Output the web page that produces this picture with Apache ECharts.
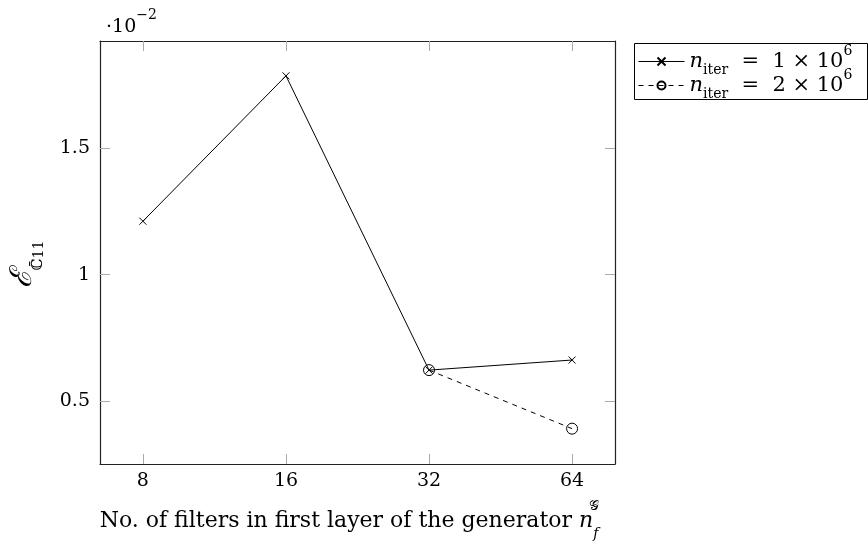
<!DOCTYPE html>
<html><head><meta charset="utf-8">
<script src="https://cdn.jsdelivr.net/npm/echarts@6/dist/echarts.min.js"></script>
<style>html,body{margin:0;padding:0;background:#fff}#c{width:868px;height:546px}</style>
</head><body><div id="c"></div>
<script>
const filters = [8, 16, 32, 64];
const iter1e6 = [1.212, 1.788, 0.622, 0.662];
const filters2 = [32, 64];
const iter2e6 = [0.622, 0.39];
const yTicks = [0.5, 1, 1.5];
const xTicks = [8, 16, 32, 64];

const FONT = 'DejaVu Serif';
const chart = echarts.init(document.getElementById('c'));
const mk = (xs, ys) => xs.map((x, i) => [Math.log2(x), ys[i]]);
const legRich = {
  n: {fontFamily: FONT, fontStyle: 'italic', fontSize: 21, color: '#000'},
  s: {fontFamily: FONT, fontSize: 14, color: '#000', verticalAlign: 'bottom', padding: [0,0,-5,0]},
  t: {fontFamily: FONT, fontSize: 21, color: '#000'},
  p: {fontFamily: FONT, fontSize: 14, color: '#000', verticalAlign: 'top', padding: [-7,0,0,0]}
};
const legFmt = name => name === 's1'
  ? '{n|n}{s|iter}{t|  =  1 × 10}{p|6}'
  : '{n|n}{s|iter}{t|  =  2 × 10}{p|6}';
const legBase = {
  orient: 'vertical', left: 638, padding: 0,
  itemWidth: 46, itemHeight: 10,
  lineStyle: {width: 1},
  textStyle: {rich: legRich},
  formatter: legFmt
};
const axisCommon = {
  axisLine: {show: true, lineStyle: {color: '#222', width: 1.2}},
  splitLine: {show: false}
};
chart.setOption({
  animation: false,
  grid: {left: 99, right: 253, top: 41, bottom: 75},
  legend: [
    Object.assign({}, legBase, {top: 44, data: ['s1']}),
    Object.assign({}, legBase, {top: 68, data: ['s2']})
  ],
  graphic: [{
    type: 'rect', left: 632, top: 41,
    shape: {width: 233, height: 56},
    style: {fill: 'none', stroke: '#000', lineWidth: 1}
  }, {
    type: 'text', left: 106, top: 8,
    style: {rich: {a: {fontFamily: FONT, fontSize: 19, fill: '#000'}, b: {fontFamily: FONT, fontSize: 14, fill: '#000', verticalAlign: 'top', padding: [-10,0,0,0]}}, text: '{a|·10}{b|−2}'}
  }],
  xAxis: [{
    type: 'value', position: 'bottom', min: 2.7, max: 6.3,
    ...axisCommon,
    axisTick: {show: true, inside: true, length: 10, customValues: xTicks.map(Math.log2), lineStyle: {color: '#aaa'}},
    axisLabel: {customValues: xTicks.map(Math.log2), formatter: v => String(Math.round(Math.pow(2, v))), fontFamily: FONT, fontSize: 19, color: '#000', margin: 8},
    name: '{a|No. of filters in first layer of the generator }{i|n}{s|f}{p|𝒢}',
    nameLocation: 'middle', nameGap: 46,
    nameTextStyle: {padding: [0, 16, 0, 0], rich: {
      a: {fontFamily: FONT, fontSize: 22, color: '#000'},
      i: {fontFamily: FONT, fontStyle: 'italic', fontSize: 22, color: '#000'},
      s: {fontFamily: FONT, fontStyle: 'italic', fontSize: 14, color: '#000', verticalAlign: 'bottom', padding: [0,0,-9,0]},
      p: {fontFamily: FONT, fontSize: 14, color: '#000', verticalAlign: 'top', padding: [-11,0,0,-9]}
    }}
  }, {
    type: 'value', position: 'top', min: 2.7, max: 6.3,
    ...axisCommon,
    axisTick: {show: true, inside: true, length: 10, customValues: xTicks.map(Math.log2), lineStyle: {color: '#aaa'}},
    axisLabel: {show: false}
  }],
  yAxis: [{
    type: 'value', position: 'left', min: 0.25, max: 1.926,
    ...axisCommon,
    axisTick: {show: true, inside: true, length: 10, customValues: yTicks, lineStyle: {color: '#aaa'}},
    axisLabel: {customValues: yTicks, formatter: v => String(v), fontFamily: FONT, fontSize: 19, color: '#000', margin: 10},
    name: '{e|ℰ}{s|ℂ̄}{t|11}', nameLocation: 'middle', nameGap: 62, nameRotate: 90,
    nameTextStyle: {padding: [0, 24, 0, 0], rich: {
      e: {fontFamily: 'DejaVu Serif', fontStyle: 'italic', fontSize: 30, color: '#000'},
      s: {fontFamily: 'DejaVu Serif', fontSize: 15, color: '#000', verticalAlign: 'bottom', padding: [0,0,-8,0]},
      t: {fontFamily: FONT, fontSize: 14, color: '#000', verticalAlign: 'bottom', padding: [0,0,-8,0]}
    }}
  }, {
    type: 'value', position: 'right', min: 0.25, max: 1.926,
    ...axisCommon,
    axisTick: {show: true, inside: true, length: 10, customValues: yTicks, lineStyle: {color: '#aaa'}},
    axisLabel: {show: false}
  }],
  series: [{
    name: 's1', type: 'line', data: mk(filters, iter1e6), z: 3,
    symbol: 'path://M0,0L10,10M10,0L0,10', symbolSize: 7,
    lineStyle: {color: '#000', width: 1},
    itemStyle: {color: '#000', borderColor: '#000', borderWidth: 1}
  }, {
    name: 's2', type: 'line', data: mk(filters2, iter2e6), z: 2,
    symbol: 'circle', symbolSize: 11,
    lineStyle: {color: '#000', width: 1, type: [5, 5]},
    itemStyle: {color: 'rgba(0,0,0,0)', borderColor: '#000', borderWidth: 1}
  }]
});
</script></body></html>
